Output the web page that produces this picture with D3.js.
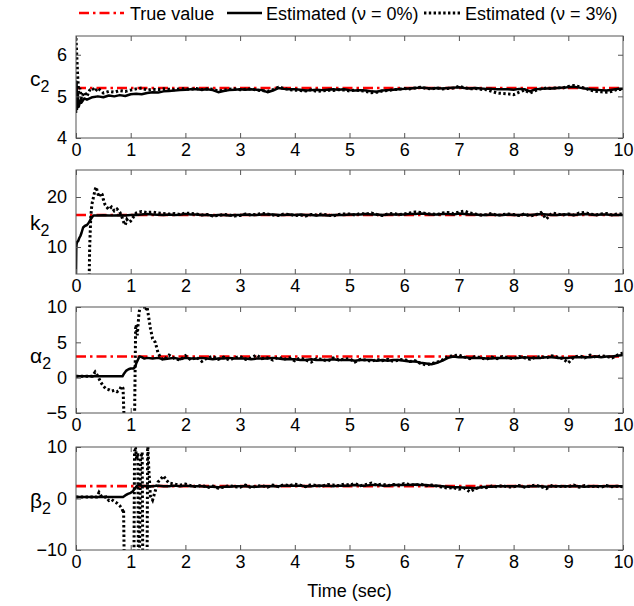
<!DOCTYPE html>
<html>
<head>
<meta charset="utf-8">
<script src="https://cdn.jsdelivr.net/npm/d3@7"></script>
<style>
  body { margin: 0; background: #fff; }
  text { font-family: "Liberation Sans", Arial, Helvetica, sans-serif; fill: #000; }
</style>
</head>
<body>
<div id="chart"></div>
<script>
let w = 634, h = 606;

const xTicks = [0, 1, 2, 3, 4, 5, 6, 7, 8, 9, 10];
const tailTime = d3.range(20, 101).map(i => i / 10); // 2.0 ... 10.0 s

// ---- c2 ----
const c2True = 5.2;
const c2HeadT0 = [0, 0.01, 0.02, 0.03, 0.05, 0.08, 0.1, 0.15, 0.2, 0.3, 0.4, 0.5, 0.6, 0.7, 0.8, 0.9, 1.0, 1.1, 1.2, 1.3, 1.4, 1.5, 1.6, 1.7, 1.8, 1.9];
const c2Head0 = [4.6, 5.35, 4.7, 5.1, 4.75, 4.9, 4.85, 4.95, 4.92, 4.98, 5.0, 4.98, 5.02, 5.0, 5.03, 5.01, 5.05, 5.06, 5.05, 5.08, 5.1, 5.09, 5.12, 5.13, 5.14, 5.15];
const c2Tail0 = [5.16,5.17,5.17,5.16,5.17,5.15,5.10,5.13,5.15,5.16,
                 5.17,5.16,5.17,5.16,5.15,5.10,5.14,5.20,5.18,5.17,
                 5.17,5.16,5.14,5.15,5.16,5.15,5.16,5.17,5.16,5.17,
                 5.15,5.14,5.15,5.14,5.12,5.11,5.14,5.15,5.16,5.17,
                 5.18,5.19,5.20,5.21,5.20,5.19,5.20,5.19,5.20,5.21,
                 5.22,5.20,5.19,5.20,5.19,5.18,5.18,5.17,5.17,5.17,
                 5.16,5.18,5.17,5.12,5.17,5.18,5.19,5.19,5.20,5.21,
                 5.22,5.23,5.21,5.19,5.17,5.16,5.15,5.14,5.16,5.18,
                 5.18];
const c2HeadT3 = [0, 0.01, 0.02, 0.03, 0.04, 0.05, 0.07, 0.1, 0.13, 0.16, 0.2, 0.25, 0.3, 0.35, 0.4, 0.5, 0.6, 0.7, 0.8, 0.9, 1.0, 1.1, 1.2, 1.3, 1.4, 1.5, 1.6, 1.7, 1.8, 1.9];
const c2Head3 = [6.4, 6.1, 5.8, 5.5, 5.3, 5.1, 5.2, 4.95, 5.05, 5.1, 5.0, 5.15, 5.2, 5.12, 5.2, 5.08, 5.12, 5.1, 5.14, 5.12, 5.15, 5.18, 5.2, 5.15, 5.17, 5.16, 5.18, 5.17, 5.16, 5.18];
const c2Tail3 = [5.18,5.17,5.19,5.16,5.18,5.17,5.13,5.15,5.17,5.18,
                 5.16,5.17,5.18,5.15,5.14,5.12,5.16,5.22,5.19,5.16,
                 5.15,5.14,5.13,5.16,5.12,5.13,5.15,5.14,5.16,5.15,
                 5.13,5.15,5.14,5.12,5.09,5.10,5.13,5.14,5.16,5.17,
                 5.19,5.18,5.20,5.22,5.19,5.18,5.20,5.18,5.19,5.20,
                 5.24,5.21,5.18,5.19,5.17,5.16,5.12,5.08,5.07,5.06,
                 5.04,5.10,5.15,5.08,5.14,5.18,5.20,5.19,5.21,5.20,
                 5.24,5.26,5.23,5.20,5.15,5.12,5.11,5.10,5.12,5.17,
                 5.16];

// ---- k2 ----
const k2True = 16.4;
const k2HeadT0 = [0, 0.005, 0.01, 0.02, 0.04, 0.06, 0.08, 0.1, 0.13, 0.16, 0.2, 0.23, 0.26, 0.29, 0.32, 0.4, 0.5, 0.6, 0.7, 0.8, 0.9, 1.0, 1.1, 1.2, 1.3, 1.4, 1.5, 1.6, 1.7, 1.8, 1.9];
const k2Head0 = [4.6, 9.5, 10.5, 11, 11.2, 11.8, 12.2, 12.8, 13.9, 14.2, 14.4, 14.8, 15.4, 15.9, 16.3, 16.3, 16.35, 16.3, 16.3, 16.35, 16.3, 16.4, 16.4, 16.5, 16.6, 16.5, 16.45, 16.4, 16.5, 16.4, 16.45];
const k2Tail0 = [16.6,16.5,16.5,16.4,16.4,16.3,16.4,16.4,16.3,16.4,
                 16.4,16.5,16.4,16.4,16.5,16.5,16.5,16.4,16.4,16.5,
                 16.4,16.5,16.4,16.4,16.3,16.4,16.3,16.4,16.4,16.4,
                 16.5,16.5,16.5,16.6,16.5,16.5,16.4,16.5,16.5,16.5,
                 16.5,16.6,16.6,16.7,16.6,16.5,16.5,16.6,16.6,16.5,
                 16.7,16.6,16.5,16.5,16.4,16.4,16.5,16.4,16.4,16.5,
                 16.4,16.4,16.5,16.4,16.5,16.6,16.5,16.4,16.4,16.5,
                 16.5,16.4,16.5,16.6,16.5,16.4,16.5,16.5,16.4,16.4,
                 16.4];
const k2HeadT3 = [0, 0.24, 0.25, 0.27, 0.29, 0.31, 0.33, 0.35, 0.37, 0.39, 0.42, 0.45, 0.48, 0.5, 0.53, 0.56, 0.6, 0.65, 0.7, 0.75, 0.8, 0.84, 0.87, 0.9, 0.93, 0.96, 1.0, 1.05, 1.1, 1.15, 1.2, 1.3, 1.4, 1.5, 1.6, 1.7, 1.8, 1.9];
const k2Head3 = [3, 3, 10, 16, 18.5, 19.5, 20.5, 21.5, 22, 21, 20, 20.8, 20.5, 19.5, 18.5, 18, 17.5, 18, 17.2, 17.6, 17, 16, 15, 14.4, 15.5, 15, 15.2, 16, 16.8, 17, 17.1, 16.9, 17, 16.8, 16.7, 16.6, 16.7, 16.5];
const k2Tail3 = [16.8,16.7,16.6,16.4,16.5,16.2,16.3,16.5,16.4,16.2,
                 16.3,16.6,16.4,16.5,16.7,16.6,16.4,16.3,16.6,16.5,
                 16.3,16.4,16.2,16.5,16.4,16.6,16.4,16.2,16.5,16.6,
                 16.6,16.4,16.7,16.6,16.8,16.5,16.3,16.6,16.7,16.5,
                 16.6,16.8,17.0,16.9,16.7,16.6,16.5,16.8,16.9,16.7,
                 17.0,17.2,16.8,16.6,16.4,16.5,16.7,16.3,16.5,16.6,
                 16.5,16.3,16.6,16.2,16.4,16.9,15.6,16.8,16.6,16.4,
                 16.6,16.4,16.8,16.9,16.6,16.4,16.6,16.7,16.4,16.6,
                 16.6];

// ---- alpha2 ----
const a2True = 3;
const a2HeadT0 = [0, 0.85, 0.88, 0.92, 0.96, 1.0, 1.05, 1.08, 1.1, 1.13, 1.16, 1.2, 1.25, 1.3, 1.4, 1.5, 1.6, 1.7, 1.8, 1.9];
const a2Head0 = [0.2, 0.2, 0.6, 1.0, 1.2, 1.3, 1.3, 1.5, 2.0, 2.5, 3.0, 2.9, 2.7, 2.8, 2.7, 2.8, 2.6, 2.7, 2.8, 2.6];
const a2Tail0 = [2.8,2.7,2.7,2.8,2.7,2.6,2.7,2.7,2.8,2.7,
                 2.7,2.7,2.6,2.7,2.7,2.7,2.8,2.7,2.6,2.6,
                 2.6,2.5,2.5,2.6,2.5,2.5,2.5,2.6,2.5,2.5,
                 2.5,2.4,2.5,2.5,2.5,2.4,2.5,2.4,2.5,2.5,
                 2.4,2.3,2.3,2.1,2.0,1.9,2.1,2.4,2.8,3.0,
                 2.9,2.9,2.8,2.8,2.8,2.7,2.7,2.8,2.8,2.8,
                 2.8,2.8,2.9,2.8,2.8,2.8,2.9,2.9,2.8,2.8,
                 2.8,2.9,2.9,2.9,2.9,3.0,2.9,3.0,3.0,3.1,
                 3.2];
const a2HeadT3 = [0, 0.3, 0.35, 0.4, 0.45, 0.5, 0.55, 0.6, 0.65, 0.7, 0.75, 0.8, 0.83, 0.86, 0.88, 0.9, 1.07, 1.09, 1.1, 1.12, 1.15, 1.18, 1.2, 1.25, 1.28, 1.3, 1.33, 1.36, 1.4, 1.45, 1.5, 1.55, 1.6, 1.7, 1.8, 1.9];
const a2Head3 = [0.2, 0.2, 0.8, 0.2, -0.6, -1.2, -1.6, -1.7, -1.9, -1.8, -2.0, -1.7, -1.2, -1.5, -6, -6, -6, 7, 7.5, 6, 9, 10.5, 11, 10, 9.5, 10, 8.5, 7, 5.5, 5, 3.5, 2.8, 2.5, 3.2, 2.7, 2.5];
const a2Tail3 = [3.1,2.5,2.9,2.3,2.8,3.0,2.6,2.9,2.5,2.8,
                 3.0,2.6,2.8,3.2,2.7,2.8,2.5,2.9,2.6,2.8,
                 2.4,2.8,2.5,2.2,2.7,2.6,2.3,2.8,2.5,2.6,
                 2.7,2.2,2.6,2.5,2.3,2.6,2.4,2.6,2.3,2.5,
                 2.6,2.3,2.4,2.0,1.8,2.0,2.2,2.5,3.0,3.1,
                 3.2,2.9,2.7,3.0,2.8,2.6,2.9,2.7,3.0,2.8,
                 2.7,3.0,2.8,2.6,2.9,3.0,2.8,3.1,2.9,2.7,
                 2.1,2.9,3.1,2.8,3.2,2.9,3.1,3.0,2.8,3.2,
                 3.5];

// ---- beta2 ----
const b2True = 2.4;
const b2HeadT0 = [0, 0.86, 0.9, 0.95, 1.0, 1.04, 1.08, 1.11, 1.14, 1.2, 1.3, 1.4, 1.5, 1.6, 1.7, 1.8, 1.9];
const b2Head0 = [0.3, 0.3, 0.6, 0.9, 1.1, 1.4, 2.0, 2.4, 2.6, 2.5, 2.4, 2.4, 2.5, 2.4, 2.4, 2.5, 2.4];
const b2Tail0 = [2.5,2.4,2.4,2.4,2.3,2.3,2.2,2.3,2.3,2.4,
                 2.4,2.4,2.3,2.3,2.4,2.4,2.4,2.4,2.5,2.5,
                 2.5,2.5,2.4,2.4,2.5,2.5,2.5,2.4,2.5,2.5,
                 2.5,2.6,2.5,2.5,2.6,2.6,2.5,2.5,2.6,2.6,
                 2.6,2.6,2.7,2.6,2.6,2.5,2.5,2.4,2.3,2.2,
                 2.2,2.1,2.1,2.0,2.2,2.3,2.3,2.4,2.4,2.4,
                 2.4,2.4,2.3,2.4,2.4,2.4,2.3,2.4,2.4,2.4,
                 2.4,2.4,2.4,2.3,2.4,2.4,2.4,2.4,2.4,2.4,
                 2.4];
const b2HeadT3 = [0, 0.38, 0.42, 0.46, 0.5, 0.55, 0.6, 0.65, 0.7, 0.75, 0.8, 0.84, 0.86, 0.87, 0.88, 1.06, 1.07, 1.09, 1.11, 1.13, 1.14, 1.16, 1.18, 1.2, 1.21, 1.22, 1.3, 1.31, 1.33, 1.36, 1.4, 1.45, 1.5, 1.55, 1.6, 1.65, 1.7, 1.8, 1.9];
const b2Head3 = [0.3, 0.3, 1.2, 0.5, 0.2, 0.3, -0.4, -0.2, -0.6, -0.9, -1.4, -1.9, -2.6, -2.3, -11, -11, 9.2, 9.6, 7.6, 8.8, -11, -11, 8, 8.5, 9, -11, -11, 11, 6, 0.5, -0.3, 1.5, 3.2, 3.8, 4.4, 3.6, 3.0, 2.8, 2.6];
const b2Tail3 = [2.8,2.5,2.3,2.6,2.1,2.4,2.0,2.2,2.5,2.3,
                 2.2,2.6,2.1,2.4,2.5,2.2,2.6,2.3,2.7,2.5,
                 2.8,2.6,2.3,2.7,2.5,2.4,2.7,2.6,2.5,2.8,
                 2.6,2.9,2.5,2.7,3.0,2.6,2.8,2.5,2.7,2.6,
                 2.9,2.7,2.6,2.8,2.5,2.6,2.4,2.2,2.0,2.1,
                 1.8,2.0,1.3,1.9,2.2,2.1,2.4,2.3,2.5,2.2,
                 2.3,2.5,2.2,2.4,2.6,2.3,1.9,2.5,2.3,2.4,
                 2.3,2.6,2.2,2.5,2.3,2.4,2.2,2.5,2.3,2.4,
                 2.3];

const legendLabels = ["True value", "Estimated (\u03bd = 0%)", "Estimated (\u03bd = 3%)"];

const joinSeries = (ht, hv, tv) =>
  ht.map((t, i) => [t, hv[i]]).concat(tailTime.map((t, i) => [t, tv[i]]));

const panels = [
  {sym: "c", domain: [4, 6.45], ticks: [4, 5, 6], truth: c2True, top: 36, bottom: 138, labelY: 86,
   s0: joinSeries(c2HeadT0, c2Head0, c2Tail0), s3: joinSeries(c2HeadT3, c2Head3, c2Tail3)},
  {sym: "k", domain: [4.6, 25.4], ticks: [10, 20], truth: k2True, top: 170, bottom: 274, labelY: 230,
   s0: joinSeries(k2HeadT0, k2Head0, k2Tail0), s3: joinSeries(k2HeadT3, k2Head3, k2Tail3)},
  {sym: "\u03b1", domain: [-5, 10], ticks: [-5, 0, 5, 10], truth: a2True, top: 307, bottom: 413, labelY: 363,
   s0: joinSeries(a2HeadT0, a2Head0, a2Tail0), s3: joinSeries(a2HeadT3, a2Head3, a2Tail3)},
  {sym: "\u03b2", domain: [-10, 10], ticks: [-10, 0, 10], truth: b2True, top: 447, bottom: 550, labelY: 508,
   s0: joinSeries(b2HeadT0, b2Head0, b2Tail0), s3: joinSeries(b2HeadT3, b2Head3, b2Tail3)}
];

const left = 76, right = 623;
const redDash = "10,4,2.5,4", dotDash = "2.4,2.4";

let svg = d3.select("#chart")
  .append("svg")
  .attr("width", w)
  .attr("height", h);

let x = d3.scaleLinear().domain([0, 10]).range([left, right]);

panels.forEach((p, idx) => {
  let y = d3.scaleLinear().domain(p.domain).range([p.bottom, p.top]);
  let g = svg.append("g");

  g.append("clipPath").attr("id", "clip" + idx)
    .append("rect")
    .attr("x", left).attr("y", p.top)
    .attr("width", right - left).attr("height", p.bottom - p.top);

  let line = d3.line().x(d => x(d[0])).y(d => y(d[1]));
  let plot = g.append("g").attr("clip-path", "url(#clip" + idx + ")");

  plot.append("line")
    .attr("x1", x(0)).attr("x2", x(10))
    .attr("y1", y(p.truth)).attr("y2", y(p.truth))
    .attr("stroke", "#ff0000").attr("stroke-width", 2.6)
    .attr("stroke-dasharray", redDash);

  plot.append("path").datum(p.s0)
    .attr("d", line)
    .attr("fill", "none").attr("stroke", "#000").attr("stroke-width", 2.5)
    .attr("stroke-linejoin", "round");

  plot.append("path").datum(p.s3)
    .attr("d", line)
    .attr("fill", "none").attr("stroke", "#000").attr("stroke-width", 3)
    .attr("stroke-dasharray", dotDash);

  // axes (inward ticks, MATLAB box)
  let fmt = d3.format("d");
  g.append("g").attr("transform", `translate(0,${p.bottom})`)
    .call(d3.axisBottom(x).tickValues(xTicks).tickFormat(fmt).tickSize(-5).tickSizeOuter(0).tickPadding(5));
  g.append("g").attr("transform", `translate(0,${p.top})`)
    .call(d3.axisTop(x).tickValues(xTicks).tickFormat("").tickSize(-5).tickSizeOuter(0));
  g.append("g").attr("transform", `translate(${left},0)`)
    .call(d3.axisLeft(y).tickValues(p.ticks).tickFormat(fmt).tickSize(-5).tickSizeOuter(0).tickPadding(9));
  g.append("g").attr("transform", `translate(${right},0)`)
    .call(d3.axisRight(y).tickValues(p.ticks).tickFormat("").tickSize(-5).tickSizeOuter(0));

  g.selectAll(".domain").remove();
  g.selectAll(".tick line").attr("stroke", "#555");
  g.selectAll(".tick text").attr("font-size", 18).attr("fill", "#000");

  g.append("rect")
    .attr("x", left).attr("y", p.top)
    .attr("width", right - left).attr("height", p.bottom - p.top)
    .attr("fill", "none").attr("stroke", "#555").attr("stroke-width", 1);

  let lab = g.append("text")
    .attr("x", 30).attr("y", p.labelY)
    .attr("font-size", 21);
  lab.append("tspan").text(p.sym);
  lab.append("tspan").attr("dy", 6).attr("font-size", 16).text("2");
});

svg.append("text")
  .attr("x", (left + right) / 2).attr("y", 597)
  .attr("text-anchor", "middle").attr("font-size", 18)
  .text("Time (sec)");

// legend
let legend = svg.append("g").attr("transform", "translate(0,13)");
const legendItems = [
  {x1: 79, x2: 124, tx: 130, stroke: "#ff0000", dash: redDash, sw: 2.6},
  {x1: 227, x2: 262, tx: 266, stroke: "#000", dash: null, sw: 2.5},
  {x1: 424, x2: 460, tx: 465, stroke: "#000", dash: dotDash, sw: 3}
];
legendItems.forEach((it, i) => {
  legend.append("line")
    .attr("x1", it.x1).attr("x2", it.x2).attr("y1", 0).attr("y2", 0)
    .attr("stroke", it.stroke).attr("stroke-width", it.sw)
    .attr("stroke-dasharray", it.dash);
  legend.append("text")
    .attr("x", it.tx).attr("y", 6.5)
    .attr("font-size", 18)
    .text(legendLabels[i]);
});
</script>
</body>
</html>
